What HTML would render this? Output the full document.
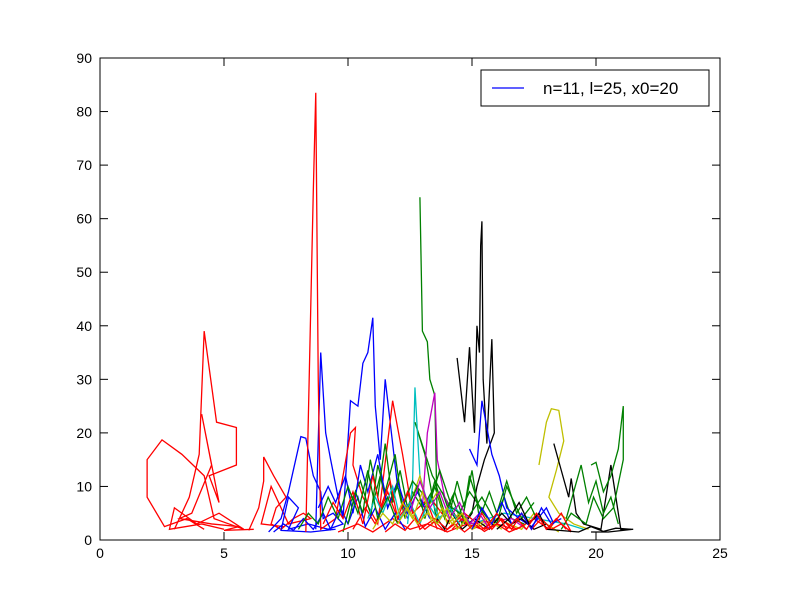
<!DOCTYPE html>
<html><head><meta charset="utf-8"><style>
body{margin:0;background:#fff;}
svg text{font-family:"Liberation Sans",sans-serif;font-size:14px;}
</style></head><body>
<svg id="chart" width="800" height="600">
<g id="series"></g>
<rect x="100" y="58" width="620" height="482" fill="none" stroke="#000" stroke-width="1"/>
<g id="axes"></g>
<g>
<rect x="481" y="70" width="228" height="36" fill="#fff" stroke="#000"/>
<line x1="492" y1="88" x2="524" y2="88" stroke="#0000ff" stroke-width="1.3"/>
<text x="543" y="94" style="font-size:17px">n=11, l=25, x0=20</text>
</g>
</svg>
<script>
const xTicks=[0,5,10,15,20,25];
const yTicks=[0,10,20,30,40,50,60,70,80,90];
const seriesColors=['#ff0000','#ff0000','#ff0000','#0000ff','#0000ff','#ff0000','#008000','#008000','#000000','#00bfbf','#bf00bf','#bfbf00','#bfbf00','#000000','#008000','#ff0000','#0000ff','#008000','#000000','#ff0000',
'#0000ff','#0000ff','#008000','#008000','#ff0000','#ff0000','#00bfbf','#bfbf00','#bf00bf','#008000','#ff0000','#0000ff','#000000','#008000','#ff0000','#bfbf00'];
const seriesData=[
[[4.2,2],[3.5,4],[2.6,2.5],[1.9,8],[1.9,15],[2.5,18.7],[3.3,16],[4.2,12],[4.6,4],[5.2,3],[5.8,2],[4.8,5],[3.9,3],[3.0,6],[2.8,2],[4.1,3],[5.0,2]],
[[3.0,2],[3.6,8],[4.0,16],[4.2,39],[4.7,22],[5.5,21],[5.5,14],[4.4,12],[4.8,7],[4.1,23.5],[4.5,14],[3.7,5],[3.2,4],[4.5,3],[5.6,2.5],[5.0,1.8],[6.2,2]],
[[6.0,1.8],[6.4,6],[6.6,11],[6.6,15.5],[7.0,12],[7.5,8],[7.1,6],[6.9,3],[7.3,2],[7.8,4],[8.2,5],[8.5,4],[7.6,3],[6.9,10],[6.5,3],[7.4,2.5]],
[[6.8,1.5],[7.3,4],[7.6,9],[8.1,19.3],[8.3,19],[8.6,12],[8.9,9],[9.0,4],[9.4,5],[9.8,3],[9.2,2],[8.4,3],[7.6,2],[8.0,6],[7.6,8],[7.3,1.8],[8.5,1.5],[9.5,2]],
[[8.7,2],[8.9,35],[9.1,20],[9.3,15],[9.6,8],[9.8,4],[10.1,26],[10.4,25],[10.6,33],[10.8,35],[11.0,41.5],[11.1,25],[11.3,15],[11.5,30],[11.7,22],[12.0,10],[12.4,4]],
[[8.3,1.5],[8.6,65],[8.7,83.5],[8.8,30],[8.9,2],[9.5,4],[10.1,20],[10.3,21],[10.2,14],[10.6,8],[11.2,3],[11.8,26],[12.2,16],[12.6,5],[13.3,8],[14.1,3]],
[[12.9,64],[13.0,39],[13.2,37],[13.3,30],[13.5,27],[13.6,3],[13.1,16],[12.7,22],[13.4,12],[13.9,8],[14.4,4],[14.9,9],[15.5,5]],
[[9.8,1.5],[10.1,7],[10.5,11],[10.9,5],[11.3,12],[11.6,6],[12.0,10],[12.3,4],[12.6,9],[13.0,6],[13.5,10],[13.9,4],[14.2,8],[14.6,3],[14.9,12],[15.3,6],[15.8,3],[16.3,8],[16.6,4],[17.1,3]],
[[14.4,34],[14.7,22],[14.9,36],[15.1,20],[15.2,40],[15.3,35],[15.35,55],[15.4,59.5],[15.45,30],[15.6,18],[15.8,37.5],[15.9,20],[15.5,15],[15.2,10],[15.0,5],[14.7,3]],
[[12.4,3],[12.6,10],[12.7,28.5],[12.8,20],[12.9,12],[13.2,7],[13.6,4],[14.3,6],[15.0,3],[16.3,5],[18.8,3],[19.5,2]],
[[13.0,6],[13.2,20],[13.4,25],[13.5,27.5],[13.6,15],[13.9,8],[14.2,5],[14.8,3],[16.6,4],[17.2,2]],
[[17.7,14],[18.0,22],[18.2,24.5],[18.5,24.2],[18.7,18.5],[18.4,13],[18.1,8],[18.5,5],[19.1,3],[19.7,2]],
[[12.3,4],[12.6,8],[12.9,12],[13.2,6],[13.6,9],[14.0,3],[14.5,5],[15.0,2],[16.0,4],[17.0,2],[17.5,5],[18.0,3],[18.5,1.5]],
[[18.3,18],[18.6,13],[18.9,8],[19.0,11.5],[19.2,5],[19.5,3],[20.2,2],[20.6,14],[20.8,8],[21.0,2],[21.5,2],[20.5,1.5],[19.8,1.5]],
[[19.8,14],[20.0,14.5],[20.3,9],[20.6,12],[20.9,17],[21.1,25],[21.1,15],[20.7,6],[20.3,4],[19.9,8],[19.6,3],[19.0,5],[18.6,2]],
[[9.6,1.5],[10.4,3],[11.0,1.5],[11.8,4],[12.5,2],[13.2,3],[14.0,1.5],[14.8,3],[15.4,2],[16.1,4],[16.8,2],[17.5,4],[18.1,2],[18.6,5],[19.0,1.5]],
[[14.9,17],[15.2,14],[15.4,26],[15.6,21],[15.8,16],[16.1,12],[16.4,6],[16.9,4],[17.4,2.5],[18.0,6],[18.3,3]],
[[10.9,4],[11.2,14],[11.5,9],[11.9,16],[12.2,6],[12.6,11],[13.3,7],[13.7,13],[14.2,6],[14.8,4],[15.4,8],[16.0,3],[16.4,10],[17.0,4],[17.5,7]],
[[13.6,4],[13.9,2],[14.2,5],[14.6,2],[15.1,4],[15.7,2],[16.2,5],[16.6,3],[17.0,4],[17.5,2],[18.0,3]],
[[10.2,2],[10.7,6],[11.1,3],[11.6,9],[12.0,4],[12.5,7],[12.9,2],[13.5,4],[14.0,2],[14.7,5],[15.5,2],[16.0,3],[16.7,2]],
[[7.0,1.5],[7.4,3],[7.8,1.8],[8.2,4],[8.6,2],[9.0,5],[9.3,2],[9.7,6],[10.0,3],[10.4,8],[10.7,2.5],[11.1,6],[11.5,2],[11.9,5],[12.3,2]],
[[8.8,6],[9.2,10],[9.5,7],[9.9,12],[10.2,5],[10.5,14],[10.8,9],[11.2,16],[11.6,6],[12.0,11],[12.4,5],[12.8,9],[13.3,4]],
[[10.0,3],[10.3,9],[10.6,5],[10.9,15],[11.2,8],[11.5,18],[11.8,7],[12.1,13],[12.4,6],[12.8,10],[13.1,4],[13.5,11],[13.9,5],[14.3,9],[14.7,3]],
[[13.8,9],[14.1,5],[14.4,11],[14.7,6],[15.0,13],[15.3,4],[15.7,9],[16.0,5],[16.4,11],[16.8,5],[17.2,8],[17.6,4]],
[[9.0,3],[9.4,7],[9.8,4],[10.2,9],[10.6,3],[11.0,12],[11.3,6],[11.7,11],[12.0,4],[12.4,9],[12.8,3],[13.2,7],[13.6,2]],
[[14.2,2],[14.6,4],[15.0,2],[15.4,5],[15.8,2],[16.2,4],[16.6,2],[17.0,5],[17.4,2],[17.8,4],[18.2,2],[18.6,3],[19.0,1.5]],
[[10.8,4],[11.1,8],[11.4,5],[11.8,10],[12.1,4],[12.5,7],[12.9,3],[13.3,8],[13.7,4],[14.1,6],[14.5,3]],
[[11.0,2],[11.4,5],[11.8,3],[12.2,7],[12.6,4],[13.0,9],[13.4,3],[13.8,6],[14.2,3],[14.6,5],[15.0,2],[15.6,4],[16.2,2]],
[[12.5,5],[12.9,11],[13.3,6],[13.7,9],[14.1,4],[14.5,7],[14.9,3],[15.3,5],[15.7,2]],
[[8.0,2],[8.4,5],[8.8,3],[9.2,8],[9.6,4],[10.0,10],[10.4,5],[10.8,13],[11.2,4],[11.6,8],[12.0,3]],
[[11.5,1.5],[11.9,3],[12.3,1.8],[12.7,4],[13.1,2],[13.5,3.5],[13.9,1.6],[14.3,3],[14.7,1.5],[15.1,3],[15.5,1.6],[16.0,3],[16.5,1.5],[17.0,2.5]],
[[15.0,2],[15.4,6],[15.8,3],[16.2,7],[16.6,3],[17.0,5],[17.4,2],[17.8,6],[18.2,3],[18.6,4]],
[[16.0,2],[16.5,4],[16.9,7],[17.3,3],[17.7,5],[18.0,2],[19.3,1.5],[19.8,2.5],[20.3,1.6],[20.8,2.2],[21.4,2]],
[[18.8,4],[19.1,9],[19.4,14],[19.7,7],[20.0,11],[20.3,5],[20.6,8],[20.9,3]],
[[15.5,2],[16.0,5],[16.4,2],[16.8,4],[17.2,2],[17.6,5],[18.0,2],[18.4,4],[18.8,2]],
[[12.0,3],[12.4,6],[12.8,3],[13.2,5],[13.6,3],[14.0,6],[14.4,2],[14.8,4]]
];
const X=v=>100+v*620/25, Y=v=>540-v*482/90;
const ns='http://www.w3.org/2000/svg';
const sg=document.getElementById('series');
seriesData.forEach((s,i)=>{
  const p=document.createElementNS(ns,'polyline');
  p.setAttribute('points',s.map(d=>X(d[0])+','+Y(d[1])).join(' '));
  p.setAttribute('fill','none');p.setAttribute('stroke',seriesColors[i]);p.setAttribute('stroke-width','1.3');
  
  
  sg.appendChild(p);
});
const ax=document.getElementById('axes');
xTicks.forEach(t=>{
  const x=X(t);
  ax.insertAdjacentHTML('beforeend',`<line x1="${x}" y1="540" x2="${x}" y2="532" stroke="#000"/><line x1="${x}" y1="58" x2="${x}" y2="66" stroke="#000"/>`);
  const tx=document.createElementNS(ns,'text');
  tx.setAttribute('x',x);tx.setAttribute('y',558);tx.setAttribute('text-anchor','middle');tx.textContent=t;
  
  
  ax.appendChild(tx);
});
yTicks.forEach(t=>{
  const y=Y(t);
  ax.insertAdjacentHTML('beforeend',`<line x1="100" y1="${y}" x2="108" y2="${y}" stroke="#000"/><line x1="720" y1="${y}" x2="712" y2="${y}" stroke="#000"/>`);
  const tx=document.createElementNS(ns,'text');
  tx.setAttribute('x',92);tx.setAttribute('y',y+5);tx.setAttribute('text-anchor','end');tx.textContent=t;
  
  
  ax.appendChild(tx);
});
</script>
</body></html>
